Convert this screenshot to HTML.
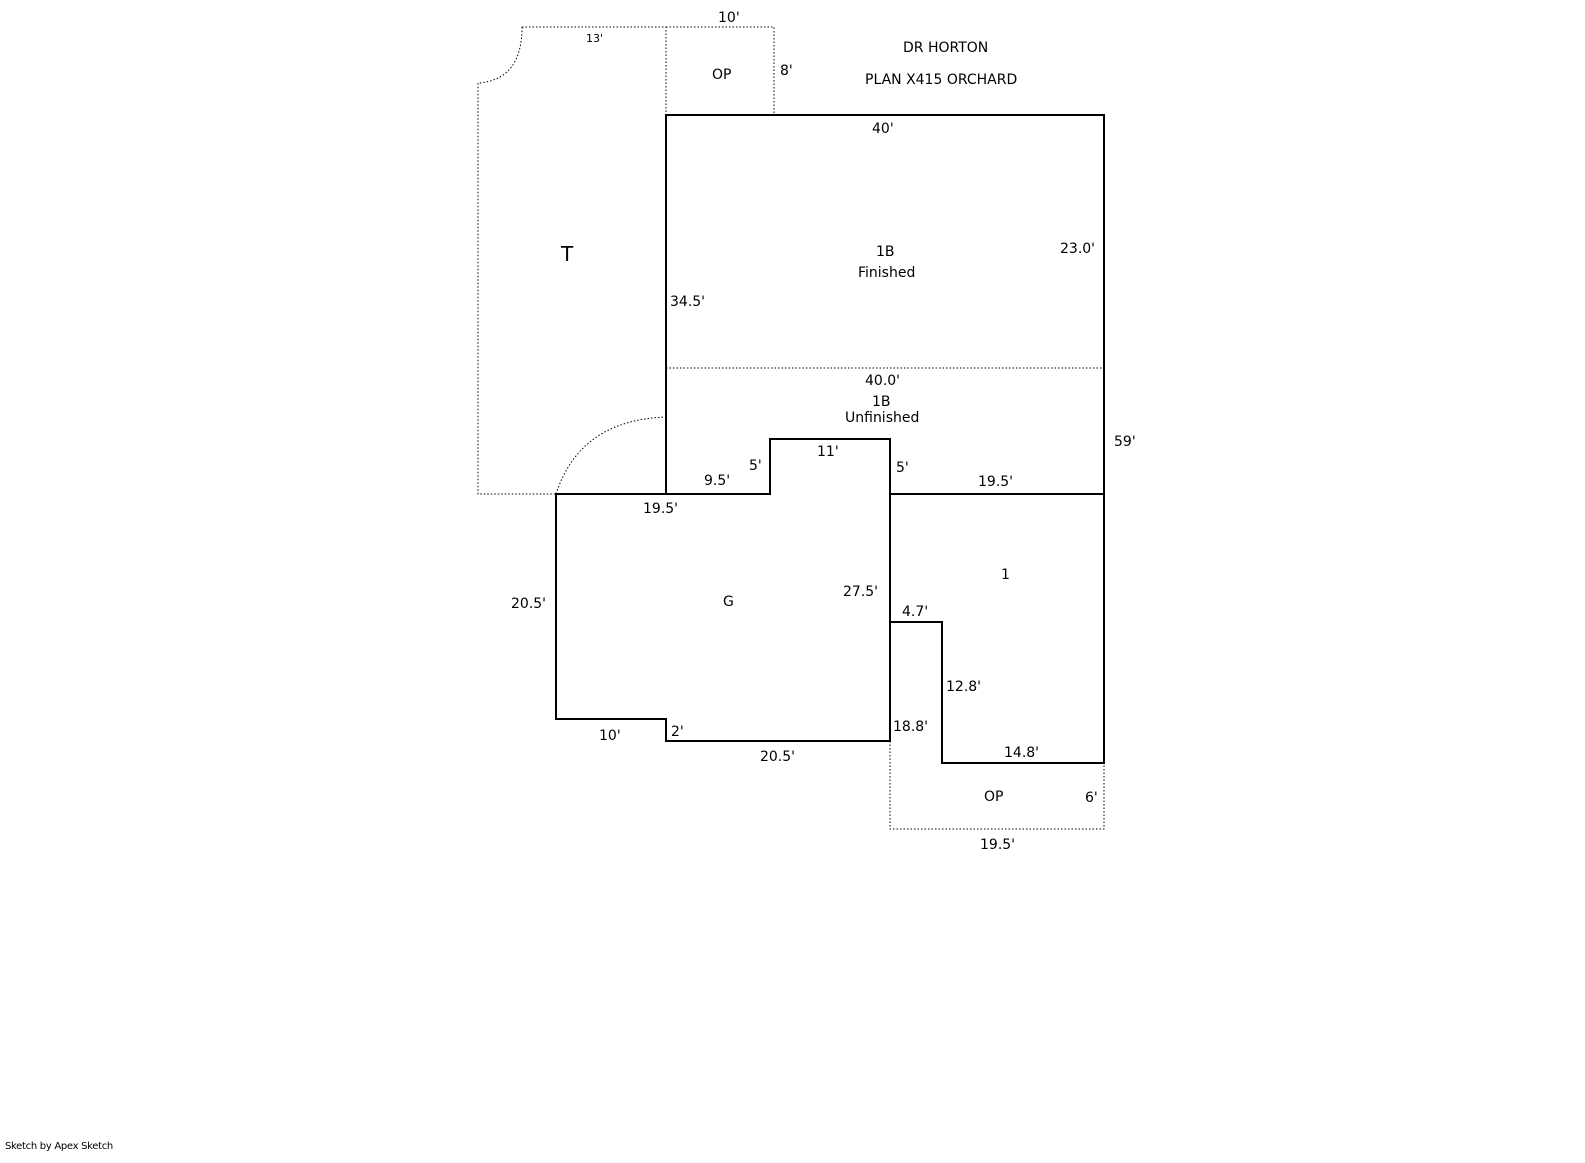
<!DOCTYPE html>
<html><head><meta charset="utf-8"><style>
html,body{margin:0;padding:0;background:#fff;}
svg{display:block}
text{font-family:"DejaVu Sans","Liberation Sans",sans-serif;font-size:14px;fill:#000;}
</style></head><body>
<svg width="1585" height="1163" viewBox="0 0 1585 1163" xmlns="http://www.w3.org/2000/svg">
<g fill="none" stroke="#000" stroke-width="1" stroke-dasharray="1.5,2">
<path d="M522,27 L666,27 L666,115"/>
<path d="M522,27 Q522,80 478,83 L478,494 L556,494"/>
<path d="M556,494 Q580,420 666,417"/>
<path d="M666,27 L774,27 L774,115"/>
<path d="M666,368 L1104,368"/>
<path d="M890,741 L890,829 L1104,829 L1104,763"/>
</g>
<g fill="none" stroke="#000" stroke-width="2">
<path d="M666,494 L666,115 L1104,115 L1104,763 L942,763 L942,622 L890,622"/>
<path d="M556,494 L770,494 L770,439 L890,439 L890,741 L666,741 L666,719 L556,719 Z"/>
<path d="M890,494 L1104,494"/>
</g>
<text x="718" y="22" font-size="14">10'</text>
<text x="586" y="42" style="font-size:11px">13'</text>
<text x="712" y="79">OP</text>
<text x="780" y="75">8'</text>
<text x="903" y="52">DR HORTON</text>
<text x="865" y="84">PLAN X415 ORCHARD</text>
<text x="872" y="133">40'</text>
<text x="561" y="261" style="font-size:20px">T</text>
<text x="876" y="256">1B</text>
<text x="858" y="277">Finished</text>
<text x="1060" y="253">23.0'</text>
<text x="670" y="306">34.5'</text>
<text x="865" y="385">40.0'</text>
<text x="872" y="406">1B</text>
<text x="845" y="422">Unfinished</text>
<text x="1114" y="446">59'</text>
<text x="817" y="456">11'</text>
<text x="749" y="470">5'</text>
<text x="896" y="472">5'</text>
<text x="704" y="485">9.5'</text>
<text x="978" y="486">19.5'</text>
<text x="643" y="513">19.5'</text>
<text x="1001" y="579">1</text>
<text x="843" y="596">27.5'</text>
<text x="511" y="608">20.5'</text>
<text x="723" y="606">G</text>
<text x="902" y="616">4.7'</text>
<text x="946" y="691">12.8'</text>
<text x="893" y="731">18.8'</text>
<text x="671" y="736">2'</text>
<text x="599" y="740">10'</text>
<text x="1004" y="757">14.8'</text>
<text x="760" y="761">20.5'</text>
<text x="984" y="801">OP</text>
<text x="1085" y="802">6'</text>
<text x="980" y="849">19.5'</text>
<text x="5" y="1149" style="font-size:10px;letter-spacing:-0.3px">Sketch by Apex Sketch</text>
</svg>
</body></html>
